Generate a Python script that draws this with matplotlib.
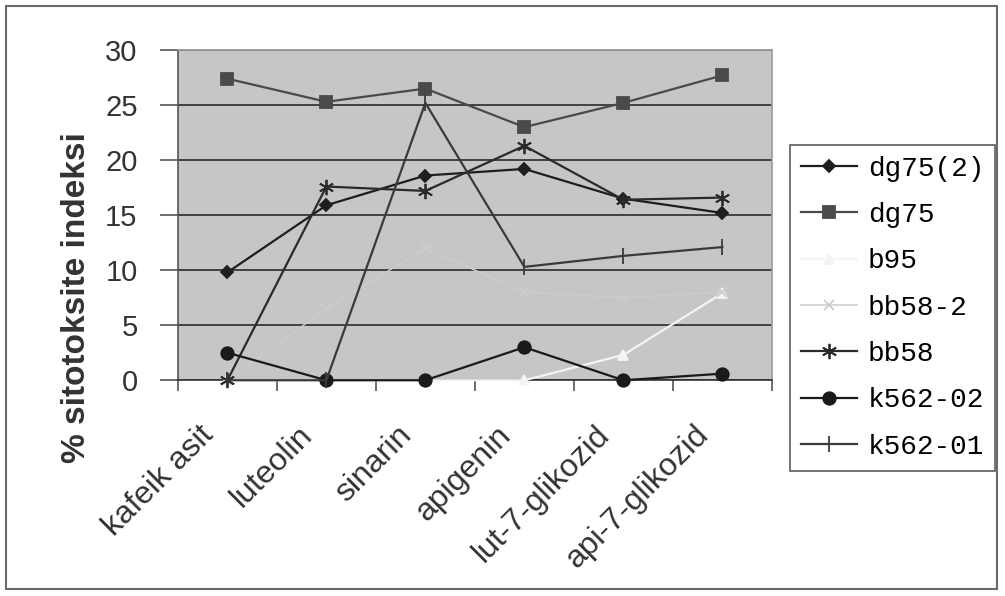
import numpy as np
import matplotlib.pyplot as plt
from matplotlib.patches import Rectangle
from matplotlib.transforms import ScaledTranslation

kategoriler = ["kafeik asit", "luteolin", "sinarin", "apigenin",
               "lut-7-glikozid", "api-7-glikozid"]

dg75_2 = [9.8, 15.9, 18.6, 19.2, 16.5, 15.2]
dg75 = [27.4, 25.3, 26.5, 23.0, 25.2, 27.7]
b95 = [0.0, 0.0, 0.0, 0.0, 2.3, 7.9]
bb58_2 = [0.0, 6.5, 12.0, 8.0, 7.5, 8.0]
bb58 = [0.0, 17.6, 17.2, 21.3, 16.4, 16.6]
k562_02 = [2.5, 0.0, 0.0, 3.0, 0.0, 0.6]
k562_01 = [0.0, 0.0, 25.2, 10.3, 11.3, 12.1]

x = np.arange(len(kategoriler))

fig = plt.figure(figsize=(10.05, 5.96), dpi=100)
fig.patch.set_facecolor("white")
# outer chart border
fig.patches.append(Rectangle((0.006, 0.012), 0.986, 0.978, transform=fig.transFigure,
                             fill=False, edgecolor="#6a6a6a", linewidth=1.5))

ax = fig.add_axes([0.177, 0.362, 0.591, 0.554])
ax.set_facecolor("#c6c6c6")

# series: (values, label, color, marker, markersize)
seriler = [
    (dg75_2, "dg75(2)", "#1e1e1e", "D", 6),
    (dg75, "dg75", "#4a4a4a", "s", 8),
    (b95, "b95", "#f4f4f4", "^", 7),
    (bb58_2, "bb58-2", "#cccccc", "x", 7),
    (bb58, "bb58", "#2a2a2a", (6, 2, 0), 11),
    (k562_02, "k562-02", "#1a1a1a", "o", 9),
    (k562_01, "k562-01", "#3a3a3a", "|", 11),
]
for vals, lab, col, mk, ms in seriler:
    lw = 1.1 if lab == "bb58-2" else 1.6
    ax.plot(x, vals, color=col, marker=mk, markersize=ms, linewidth=lw,
            markeredgewidth=1.3, label=lab, clip_on=False, zorder=3)

ax.set_xlim(-0.5, len(kategoriler) - 0.5)
ax.set_ylim(0, 30)
ax.set_yticks(np.arange(0, 31, 5))
ax.yaxis.grid(True, color="#2b2b2b", linewidth=1.2)
ax.set_axisbelow(True)

# category names: slanted text under each category, set a bit left of centre
ax.set_xticks(x)
ax.set_xticklabels([])
ax.tick_params(axis="x", which="major", length=0)
kaydir = ScaledTranslation(-0.18, -0.50, fig.dpi_scale_trans)
for xi, ad in zip(x, kategoriler):
    ax.text(xi, 0, ad, transform=ax.get_xaxis_transform() + kaydir,
            rotation=45, ha="right", va="center", rotation_mode="anchor",
            fontsize=23, family="Liberation Sans", color="#333333")

ax.set_xticks(np.arange(-0.5, len(kategoriler), 1.0), minor=True)
ax.tick_params(axis="x", which="minor", length=8, width=1.2, color="#555555")
ax.tick_params(axis="y", length=13, width=1.2, color="#555555", labelsize=21,
               labelcolor="#333333", pad=16)
for t in ax.get_yticklabels():
    t.set_family("Liberation Sans")

for s in ["top", "right"]:
    ax.spines[s].set_color("#9a9a9a")
ax.spines["left"].set_color("#555555")
ax.spines["bottom"].set_color("#333333")
for s in ax.spines.values():
    s.set_linewidth(1.2)

ax.set_ylabel("% sitotoksite indeksi", fontsize=24, fontweight="bold",
              family="Liberation Sans", color="#333333")
ax.yaxis.set_label_coords(-0.145, 0.25)

leg = fig.legend(loc="upper left", bbox_to_anchor=(0.786, 0.757),
                 prop={"family": "Liberation Mono", "size": 20},
                 frameon=True, fancybox=False, handlelength=2.0,
                 labelspacing=0.73, borderpad=0.4, handletextpad=0.4,
                 borderaxespad=0)
leg.get_frame().set_edgecolor("#333333")
leg.get_frame().set_linewidth(1.2)

fig.savefig("out.png", dpi=100, facecolor="white")
